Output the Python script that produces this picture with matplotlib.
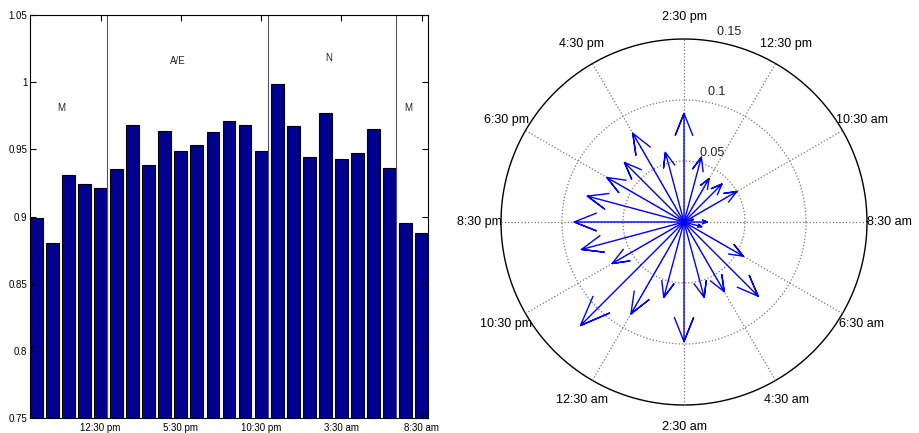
import numpy as np
import matplotlib
matplotlib.use("Agg")
import matplotlib.pyplot as plt

plt.rcParams["font.family"] = ["Liberation Sans", "DejaVu Sans"]

# left panel: hourly ratio bars
bar_values = [0.899, 0.880, 0.931, 0.924, 0.921, 0.935, 0.968, 0.938, 0.964,
              0.949, 0.953, 0.963, 0.971, 0.968, 0.949, 0.999, 0.967, 0.944,
              0.977, 0.943, 0.947, 0.965, 0.936, 0.895, 0.888]
bar_ticks = [5, 10, 15, 20, 25]
bar_ticklabels = ["12:30 pm", "5:30 pm", "10:30 pm", "3:30 am", "8:30 am"]
y_ticks = [0.75, 0.8, 0.85, 0.9, 0.95, 1.0, 1.05]
y_ticklabels = ["0.75", "0.8", "0.85", "0.9", "0.95", "1", "1.05"]
shift_bounds = [5.4, 15.4, 23.4]
shift_names = ["M", "A/E", "N", "M"]
shift_x = [2.55, 9.8, 19.2, 24.15]
shift_y = [0.981, 1.016, 1.018, 0.981]

# right panel: compass, one arrow per hour (8:30 am at 0 deg, 15 deg per hour)
arrow_angles = [0, 15, 30, 45, 60, 75, 90, 105, 120, 135, 150, 165,
                180, 195, 210, 225, 240, 255, 270, 285, 300, 315, 330, 345]
arrow_values = [0.019, 0.008, 0.050, 0.044, 0.041, 0.055, 0.089, 0.059,
                0.084, 0.069, 0.073, 0.082, 0.090, 0.087, 0.068, 0.120,
                0.087, 0.064, 0.098, 0.064, 0.066, 0.086, 0.056, 0.015]
spoke_angles = [0, 30, 60, 90, 120, 150, 180, 210, 240, 270, 300, 330]
spoke_labels = ["8:30 am", "10:30 am", "12:30 pm", "2:30 pm", "4:30 pm",
                "6:30 pm", "8:30 pm", "10:30 pm", "12:30 am", "2:30 am",
                "4:30 am", "6:30 am"]
ring_values = [0.05, 0.1, 0.15]
ring_labels = ["0.05", "0.1", "0.15"]

W, H = 920, 433
fig = plt.figure(figsize=(W / 100, H / 100), dpi=100)

# ---- bar chart ----
ax = fig.add_axes([30 / W, (H - 418) / H, 398 / W, 403 / H])
x = np.arange(1, len(bar_values) + 1)
ax.bar(x, bar_values, width=0.8, color="#00008F", edgecolor="black",
       linewidth=0.8)
for b in shift_bounds:
    ax.axvline(b, color="#555555", linewidth=0.8)
for name, tx, ty in zip(shift_names, shift_x, shift_y):
    ax.text(tx, ty, name, fontsize=7, ha="center", va="center",
            color="#222222")
ax.set_xlim(0.6, 25.4)
ax.set_ylim(0.75, 1.05)
ax.set_xticks(bar_ticks)
ax.set_xticklabels(bar_ticklabels)
ax.set_yticks(y_ticks)
ax.set_yticklabels(y_ticklabels)
ax.tick_params(direction="in", top=True, right=True, labelsize=7,
               length=4, width=0.8)
ax.tick_params(axis="y", pad=2)
ax.tick_params(axis="x", pad=3.5)
for sp in ax.spines.values():
    sp.set_linewidth(0.8)

# ---- compass ----
s = 0.15 / 183.0
cx, cy = 684, 222
ax2 = fig.add_axes([460 / W, 0, 448 / W, 1])
ax2.set_xlim(-(cx - 460) * s, (908 - cx) * s)
ax2.set_ylim(-(H - cy) * s, cy * s)
ax2.axis("off")

rmax = ring_values[-1]
t = np.linspace(0, 2 * np.pi, 361)
for r in ring_values[:-1]:
    ax2.plot(r * np.cos(t), r * np.sin(t), ls=":", color="#777777", lw=0.9)
ax2.plot(rmax * np.cos(t), rmax * np.sin(t), color="black", lw=1.0)
for a in spoke_angles[:6]:
    th = np.deg2rad(a)
    ax2.plot([-rmax * np.cos(th), rmax * np.cos(th)],
             [-rmax * np.sin(th), rmax * np.sin(th)],
             ls=":", color="#777777", lw=0.9)

c82, s82 = np.cos(np.deg2rad(82)), np.sin(np.deg2rad(82))
for r, lab in zip(ring_values, ring_labels):
    rr = r + 0.05 / 20
    ax2.text(rr * c82, rr * s82, "  " + lab, fontsize=9, ha="left",
             va="bottom", color="#222222")

rt = 1.12 * rmax
for a, lab in zip(spoke_angles, spoke_labels):
    th = np.deg2rad(a)
    ax2.text(rt * np.cos(th), rt * np.sin(th), lab, fontsize=9,
             ha="center", va="center", color="black")

# matlab-style arrows: shaft plus two head strokes
xx = np.array([0, 1, 0.8, 1, 0.8])
yy = np.array([0, 0, 0.08, 0, -0.08])
for a, v in zip(arrow_angles, arrow_values):
    z = v * np.exp(1j * np.deg2rad(a)) * (xx + 1j * yy)
    ax2.plot(z.real, z.imag, color="#0000FF", lw=1.0)

fig.savefig("out.png", dpi=100)
